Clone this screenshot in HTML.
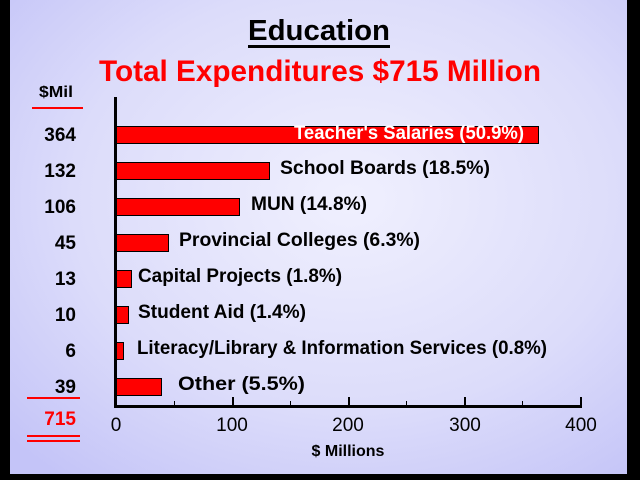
<!DOCTYPE html>
<html><head><meta charset="utf-8"><style>
html,body{margin:0;padding:0;background:#000}
svg{display:block}
text{font-family:"Liberation Sans",Arial,sans-serif;font-weight:bold}
</style></head><body>
<svg width="640" height="480" xmlns="http://www.w3.org/2000/svg">
<defs>
<radialGradient id="bg" cx="0.55" cy="0.42" r="0.75">
<stop offset="0" stop-color="#f0f0fe"/>
<stop offset="0.6" stop-color="#dcdcfa"/>
<stop offset="1" stop-color="#c4c4f8"/>
</radialGradient>
</defs>
<rect x="0" y="0" width="640" height="480" fill="#000"/>
<rect x="10" y="0" width="617" height="474" fill="url(#bg)"/>
<text x="319" y="40" font-size="29" text-anchor="middle" fill="#000" textLength="142" lengthAdjust="spacingAndGlyphs">Education</text>
<rect x="248" y="45" width="142" height="3" fill="#000"/>
<text x="320" y="81" font-size="30" text-anchor="middle" fill="#ff0000" textLength="442" lengthAdjust="spacingAndGlyphs">Total Expenditures $715 Million</text>
<text x="56" y="97" font-size="16" text-anchor="middle" fill="#000" textLength="34" lengthAdjust="spacingAndGlyphs">$Mil</text>
<rect x="32" y="107" width="51" height="2" fill="#ff0000"/>
<g font-size="19" text-anchor="end" fill="#000">
<text x="76" y="141">364</text>
<text x="76" y="177">132</text>
<text x="76" y="213">106</text>
<text x="76" y="249">45</text>
<text x="76" y="285">13</text>
<text x="76" y="321">10</text>
<text x="76" y="357">6</text>
<text x="76" y="393">39</text>
</g>
<rect x="27" y="397" width="53" height="2" fill="#ff0000"/>
<text x="76" y="425" font-size="19" text-anchor="end" fill="#ff0000">715</text>
<rect x="27" y="435" width="53" height="2" fill="#ff0000"/>
<rect x="27" y="440" width="53" height="2" fill="#ff0000"/>
<g fill="#ff0000" stroke="#000" stroke-width="1">
<rect x="116.5" y="126.5" width="422" height="17"/>
<rect x="116.5" y="162.5" width="153" height="17"/>
<rect x="116.5" y="198.5" width="123" height="17"/>
<rect x="116.5" y="234.5" width="52" height="17"/>
<rect x="116.5" y="270.5" width="15" height="17"/>
<rect x="116.5" y="306.5" width="12" height="17"/>
<rect x="116.5" y="342.5" width="7" height="17"/>
<rect x="116.5" y="378.5" width="45" height="17"/>
</g>
<rect x="114" y="97" width="3" height="311" fill="#000"/>
<rect x="114" y="405" width="468" height="3" fill="#000"/>
<g fill="#000">
<rect x="174" y="401" width="1" height="4"/>
<rect x="232" y="397" width="2" height="8"/>
<rect x="290" y="401" width="1" height="4"/>
<rect x="348" y="397" width="2" height="8"/>
<rect x="406" y="401" width="1" height="4"/>
<rect x="464" y="397" width="2" height="8"/>
<rect x="522" y="401" width="1" height="4"/>
<rect x="580" y="397" width="2" height="8"/>
</g>
<g font-size="19" fill="#000">
<text x="294" y="139" fill="#fff" textLength="230" lengthAdjust="spacingAndGlyphs">Teacher's Salaries (50.9%)</text>
<text x="280" y="174" textLength="210" lengthAdjust="spacingAndGlyphs">School Boards (18.5%)</text>
<text x="251" y="210" textLength="116" lengthAdjust="spacingAndGlyphs">MUN (14.8%)</text>
<text x="179" y="246" textLength="241" lengthAdjust="spacingAndGlyphs">Provincial Colleges (6.3%)</text>
<text x="138" y="282" textLength="204" lengthAdjust="spacingAndGlyphs">Capital Projects (1.8%)</text>
<text x="138" y="318" textLength="168" lengthAdjust="spacingAndGlyphs">Student Aid (1.4%)</text>
<text x="137" y="354" textLength="410" lengthAdjust="spacingAndGlyphs">Literacy/Library &amp; Information Services (0.8%)</text>
<text x="178" y="390" textLength="127" lengthAdjust="spacingAndGlyphs">Other (5.5%)</text>
</g>
<g font-size="19" fill="#000" text-anchor="middle">
<text x="116" y="431" style="font-weight:normal">0</text>
<text x="232" y="431" style="font-weight:normal">100</text>
<text x="348" y="431" style="font-weight:normal">200</text>
<text x="465" y="431" style="font-weight:normal">300</text>
<text x="581" y="431" style="font-weight:normal">400</text>
</g>
<text x="348" y="456" font-size="16" text-anchor="middle" fill="#000">$ Millions</text>
</svg>
</body></html>
